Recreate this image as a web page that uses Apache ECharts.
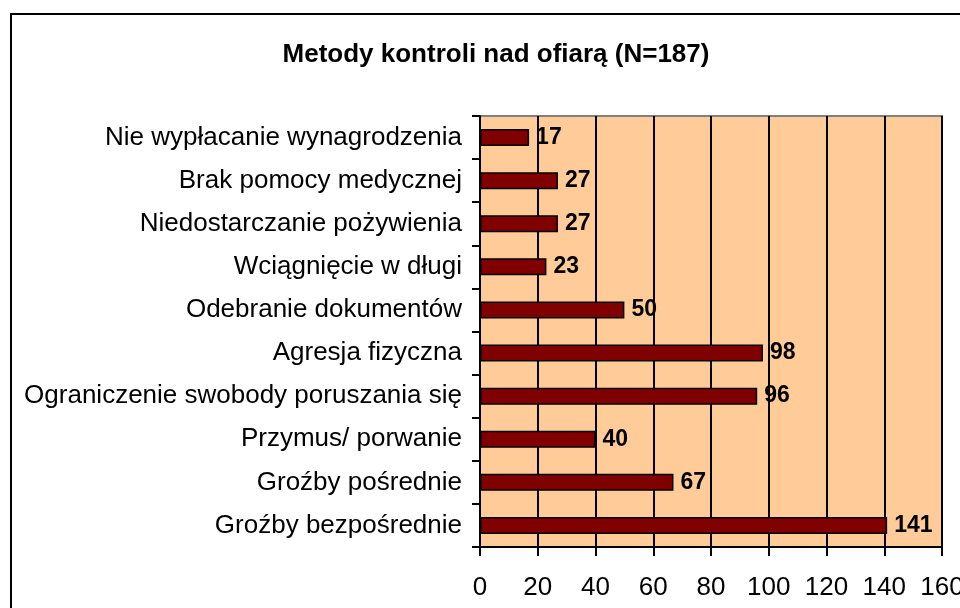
<!DOCTYPE html>
<html>
<head>
<meta charset="utf-8">
<script src="https://cdn.jsdelivr.net/npm/echarts@6/dist/echarts.min.js"></script>
<style>
  html, body { margin: 0; padding: 0; background: #fff; }
  #chart { width: 960px; height: 608px; }
</style>
</head>
<body>
<div id="chart"></div>
<script>
// kategorie od gory do dolu
const categories = [
  'Nie wypłacanie wynagrodzenia',
  'Brak pomocy medycznej',
  'Niedostarczanie pożywienia',
  'Wciągnięcie w długi',
  'Odebranie dokumentów',
  'Agresja fizyczna',
  'Ograniczenie swobody poruszania się',
  'Przymus/ porwanie',
  'Groźby pośrednie',
  'Groźby bezpośrednie'
]
const values = [17, 27, 27, 23, 50, 98, 96, 40, 67, 141]
const titleText = 'Metody kontroli nad ofiarą (N=187)'

const myChart = echarts.init(document.getElementById('chart'))
const font = 'Liberation Sans, Arial, sans-serif'

const option = {
  animation: false,
  textStyle: { fontFamily: font },
  title: {
    text: titleText,
    left: 491,
    top: 37,
    textAlign: 'center',
    textStyle: { fontSize: 26, fontWeight: 'bold', color: '#000', fontFamily: font }
  },
  // ramka wykresu
  graphic: [{
    type: 'rect',
    shape: { x: 11, y: 14, width: 1000, height: 700 },
    style: { fill: 'none', stroke: '#000', lineWidth: 2 },
    silent: true
  }],
  grid: {
    left: 480,
    right: 18,
    top: 116,
    bottom: 61,
    outerBoundsMode: 'none', // etykieta 160 ma byc przycieta jak w oryginale
    containLabel: false,
    show: true,
    backgroundColor: '#FFCC99',
    borderColor: '#808080',
    borderWidth: 2
  },
  xAxis: {
    type: 'value',
    min: 0,
    max: 160,
    interval: 20,
    axisLine: { show: true, lineStyle: { color: '#000', width: 2 } },
    axisTick: { show: true, length: 9, lineStyle: { color: '#000', width: 2 } },
    axisLabel: { fontSize: 26, color: '#000', margin: 28, fontFamily: font },
    splitLine: { show: true, lineStyle: { color: '#000', width: 2 } }
  },
  yAxis: {
    type: 'category',
    inverse: true,
    data: categories,
    axisLine: { show: true, lineStyle: { color: '#000', width: 2 } },
    axisTick: { show: true, length: 8, lineStyle: { color: '#000', width: 2 } },
    axisLabel: { fontSize: 26, color: '#000', margin: 18, fontFamily: font }
  },
  series: [{
    type: 'bar',
    data: values,
    barWidth: 17,
    itemStyle: { color: '#800000', borderColor: '#000', borderWidth: 1.5 },
    label: {
      show: true,
      position: 'right',
      distance: 7,
      fontSize: 23,
      fontWeight: 'bold',
      color: '#000',
      fontFamily: font
    }
  }]
}
myChart.setOption(option)
</script>
</body>
</html>
